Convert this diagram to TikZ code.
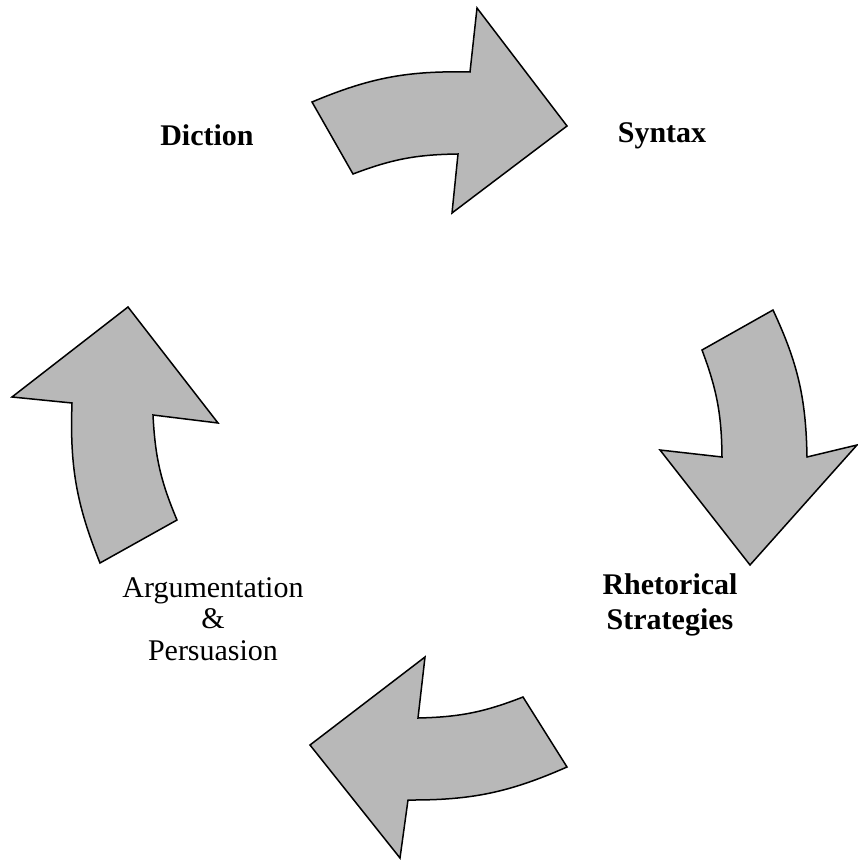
\documentclass[tikz,border=0pt]{standalone}
\usepackage{fontspec}
\setmainfont{Liberation Serif}
\usetikzlibrary{positioning}

\begin{document}
\begin{tikzpicture}[
  x=1pt, y=-1pt,
  turn/.style={
    draw=black,
    line width=1.5pt,
    line join=miter,
    fill=black!28
  },
  label/.style={
    inner sep=0pt,
    align=center,
    font=\fontsize{30}{35}\selectfont
  },
  boldlabel/.style={label, font=\fontsize{30}{35}\selectfont\bfseries}
]
\useasboundingbox (0,0) rectangle (858,861);

% top arrow
\draw[turn] (353,174) -- (312,102) to[bend left=12] (470,72)
  -- (477,8) -- (567,126) -- (452,213) -- (458,154)
  to[bend right=10] cycle;

% right arrow
\draw[turn] (702,350) -- (773,310) to[bend left=12] (807,457)
  -- (857,445) -- (750,565) -- (660,450) -- (722,457)
  to[bend right=10] cycle;

% bottom arrow
\draw[turn] (523,697) -- (567,767) to[bend left=12] (408,800)
  -- (400,858) -- (310,745) -- (425,657) -- (418,718)
  to[bend right=10] cycle;

% left arrow
\draw[turn] (177,520) -- (100,563) to[bend left=12] (72,403)
  -- (12,397) -- (128,307) -- (218,423) -- (153,415)
  to[bend right=10] cycle;

\node[boldlabel, anchor=base] (diction) at (207,146) {Diction};
\node[boldlabel, anchor=base] (syntax) at (662,143) {Syntax};
\node[boldlabel] (rhetoric) at (670,605) {Rhetorical\\Strategies};
\node[label, font=\fontsize{30}{31.5}\selectfont] (argument) at (213,619)
  {Argumentation\\\&\\Persuasion};

\end{tikzpicture}
\end{document}
